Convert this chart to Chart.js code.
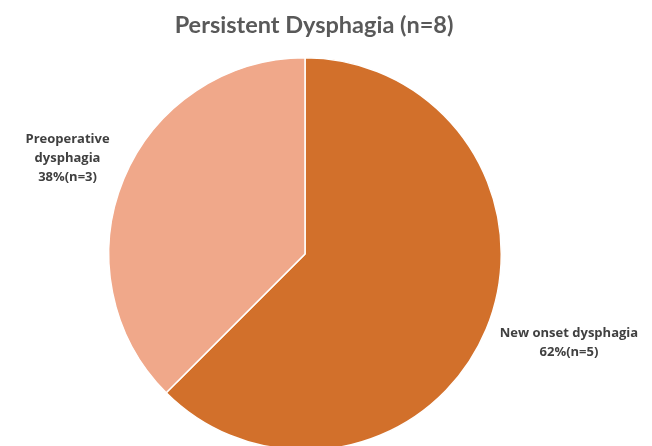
<!DOCTYPE html>
<html>
<head>
<meta charset="utf-8">
<script src="https://cdn.jsdelivr.net/npm/chart.js@4"></script>
<style>
html,body{margin:0;padding:0;background:#fff;overflow:hidden;}
#wrap{position:relative;width:652px;height:462px;}
</style>
</head>
<body>
<div id="wrap"><canvas id="c"></canvas></div>
<script>
const titleText = "Persistent Dysphagia (n=8)";
const categories = ["New onset dysphagia", "Preoperative dysphagia"];
const counts = [5, 3];
const percentLabels = ["62%(n=5)", "38%(n=3)"];
const labelLines = [["New onset dysphagia", "62%(n=5)"], ["Preoperative", "dysphagia", "38%(n=3)"]];
const colors = ["#D2702B", "#F0A88A"];

const labelPlugin = {
  id: 'labelPlugin',
  afterDraw(chart) {
    const ctx = chart.ctx;
    ctx.save();
    ctx.fillStyle = '#595959';
    ctx.font = 'bold 23.5px Lato, sans-serif';
    ctx.textAlign = 'center';
    ctx.textBaseline = 'middle';
    ctx.fillText(titleText, 314, 25);
    const meta = chart.getDatasetMeta(0);
    const offsets = [[1.345, 0.45], [-1.21, -0.49]];
    ctx.fillStyle = '#404040';
    ctx.font = 'bold 13px "Open Sans", sans-serif';
    meta.data.forEach((arc, i) => {
      const p = arc.getProps(['x', 'y', 'outerRadius'], true);
      const cx = p.x + offsets[i][0] * p.outerRadius;
      const cy = p.y + offsets[i][1] * p.outerRadius;
      const lines = labelLines[i];
      const lh = 19;
      lines.forEach((t, k) => {
        ctx.fillText(t, cx, cy + (k - (lines.length - 1) / 2) * lh);
      });
    });
    ctx.restore();
  }
};

new Chart(document.getElementById('c'), {
  type: 'pie',
  data: {
    labels: categories,
    datasets: [{
      data: counts,
      backgroundColor: colors,
      borderColor: '#ffffff',
      borderWidth: 1.5
    }]
  },
  options: {
    responsive: true,
    maintainAspectRatio: false,
    animation: false,
    layout: { padding: { top: 57, left: 0, right: 42, bottom: 11 } },
    plugins: {
      legend: { display: false },
      title: { display: false },
      tooltip: { enabled: false }
    }
  },
  plugins: [labelPlugin]
});
</script>
</body>
</html>
